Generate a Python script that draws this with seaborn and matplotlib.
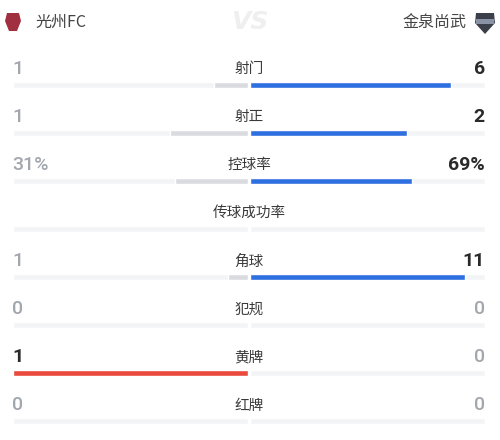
import numpy as np
import pandas as pd
import matplotlib
matplotlib.use("Agg")
import matplotlib.pyplot as plt
import seaborn as sns
from matplotlib.patches import Polygon

# ---- data ----
home_team = "光州FC"
away_team = "金泉尚武"
stats = ["射门", "射正", "控球率", "传球成功率", "角球", "犯规", "黄牌", "红牌"]
home_vals = [1, 1, 31, None, 1, 0, 1, 0]
away_vals = [6, 2, 69, None, 11, 0, 0, 0]
home_text = ["1", "1", "31%", "", "1", "0", "1", "0"]
away_text = ["6", "2", "69%", "", "11", "0", "0", "0"]

sns.set_theme(style="white")
plt.rcParams["font.family"] = ["Noto Sans CJK SC", "DejaVu Sans"]

W, H = 500, 440
fig = plt.figure(figsize=(W / 100, H / 100), dpi=100)
fig.patch.set_facecolor("white")

# pixel geometry
row0, step = 84.5, 48.07
ytop = (0 - row0) / step
ybot = (H - row0) / step
bar_h = 6.0 / step

BLUE = "#2f6fe0"
LGRAY = "#d9dbe0"
RED = "#ea4a3e"
TRACK = "#f3f4f6"

def frac(a, b):
    if a is None or b is None:
        return 0.0
    t = a + b
    return 0.0 if t == 0 else a / t

hf = [frac(h, a) for h, a in zip(home_vals, away_vals)]
af = [frac(a, h) for h, a in zip(home_vals, away_vals)]

df = pd.DataFrame({"stat": stats, "home": hf, "away": af, "track": [1.0] * len(stats)})

left_colors = [RED if s == "黄牌" else LGRAY for s in stats]
right_colors = [BLUE for s in stats]

axL = fig.add_axes([13 / W, 0, (248 - 13) / W, 1])
axR = fig.add_axes([250 / W, 0, (485 - 250) / W, 1])

for ax, col, cols in [(axL, "home", left_colors), (axR, "away", right_colors)]:
    sns.barplot(data=df, x="track", y="stat", orient="h", color=TRACK,
                width=bar_h, ax=ax, saturation=1)
    sns.barplot(data=df, x=col, y="stat", hue="stat", orient="h",
                palette=cols, width=bar_h, ax=ax, saturation=1, legend=False)
    ax.set_ylim(ybot, ytop)
    ax.axis("off")
axL.set_xlim(1, 0)
axR.set_xlim(0, 1)

ov = fig.add_axes([0, 0, 1, 1])
ov.set_xlim(0, W)
ov.set_ylim(ybot, ytop)
ov.axis("off")

num_font = ["Roboto", "Noto Sans CJK SC", "DejaVu Sans"]
DARK = "#2a2a2a"
GRAYNUM = "#a2a7ae"
off = 15.5 / step
for i, s in enumerate(stats):
    y = i - off
    ov.text(249, y, s, ha="center", va="center", fontsize=10.5, color="#3a3a3a")
    h, a = home_vals[i], away_vals[i]
    if h is None:
        continue
    hc = DARK if h > a else GRAYNUM
    ac = DARK if a > h else GRAYNUM
    ov.text(12, y, home_text[i], ha="left", va="center", fontsize=14,
            color=hc, family=num_font, fontweight="bold" if h > a else "medium")
    ov.text(485, y, away_text[i], ha="right", va="center", fontsize=14,
            color=ac, family=num_font, fontweight="bold" if a > h else "medium")

def py(p):
    return (p - row0) / step

hy = py(22)
ov.text(35, hy, home_team, ha="left", va="center", fontsize=11.5, color="#444444")
ov.text(466, hy, away_team, ha="right", va="center", fontsize=11.5, color="#444444")
ov.text(250, hy, "VS", ha="center", va="center", fontsize=18, color="#efefef",
        fontweight="bold", fontstyle="italic", family=["DejaVu Sans"])

# simple logos
ov.add_patch(Polygon([(7, py(13)), (19, py(13)), (21, py(21)), (17, py(31)), (9, py(31)), (5, py(21))],
                     closed=True, facecolor="#a03040", edgecolor="none"))
ov.add_patch(Polygon([(476, py(13)), (494, py(13)), (495, py(23)), (485, py(34)), (475, py(23))],
                     closed=True, facecolor="#3a3f4a", edgecolor="none"))
ov.add_patch(Polygon([(476, py(19)), (494, py(19)), (494, py(24)), (476, py(24))],
                     closed=True, facecolor="#8a93a6", edgecolor="none"))

fig.savefig("out.png", dpi=100, facecolor="white")
